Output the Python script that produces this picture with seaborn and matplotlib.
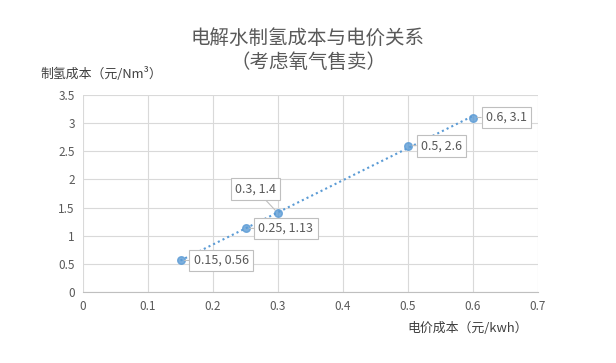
import matplotlib
matplotlib.use("Agg")
import matplotlib.pyplot as plt
import seaborn as sns
import pandas as pd

price = [0.15, 0.25, 0.3, 0.5, 0.6]
cost = [0.56, 1.13, 1.4, 2.6, 3.1]
labels = ["0.15, 0.56", "0.25, 1.13", "0.3, 1.4", "0.5, 2.6", "0.6, 3.1"]
label_offsets = [(13, 0), (13, 0), (-43, 24), (13, 0), (13, 0)]
x_ticks = [0, 0.1, 0.2, 0.3, 0.4, 0.5, 0.6, 0.7]
y_ticks = [0, 0.5, 1, 1.5, 2, 2.5, 3, 3.5]

sns.set_theme(style="whitegrid")
plt.rcParams['font.family'] = ['Noto Sans CJK SC', 'DejaVu Sans']

df = pd.DataFrame({"price": price, "cost": cost})

fig = plt.figure(figsize=(6.16, 3.63), dpi=100)
ax = fig.add_axes([83/616, 1-292/363, (538-83)/616, (292-95)/363])

blue = "#5b9bd5"
grey_txt = "#595959"
sns.regplot(data=df, x="price", y="cost", ax=ax, ci=None, truncate=True,
            scatter_kws=dict(s=30, color=blue, edgecolor=blue, zorder=3),
            line_kws=dict(color=blue, lw=1.5, ls=(0, (1, 1.5)), zorder=2))

ax.set_xlim(0, 0.7)
ax.set_ylim(0, 3.5)
ax.set_xticks(x_ticks)
ax.set_yticks(y_ticks)
ax.set_xticklabels([f"{v:g}" for v in x_ticks])
ax.set_yticklabels([f"{v:g}" for v in y_ticks])
ax.tick_params(axis="both", labelsize=8.5, colors=grey_txt, length=0, pad=6)
ax.grid(True, color="#d9d9d9", lw=0.8)
ax.set_xlabel("")
ax.set_ylabel("")
for s in ["top", "right", "left"]:
    ax.spines[s].set_visible(False)
ax.spines["bottom"].set_color("#bfbfbf")
ax.spines["bottom"].set_linewidth(0.8)
ax.set_facecolor("white")

for x, y, t, (dx, dy) in zip(price, cost, labels, label_offsets):
    ax.annotate(t, xy=(x, y), xytext=(dx, dy), textcoords="offset pixels",
                ha="left", va="center", fontsize=9, color=grey_txt,
                bbox=dict(boxstyle="square,pad=0.35", fc="white", ec="#bfbfbf", lw=0.8),
                arrowprops=dict(arrowstyle="-", color="#bfbfbf", lw=0.8, shrinkA=0, shrinkB=3),
                zorder=4)

fig.text(0.5, 1-38/363, "电解水制氢成本与电价关系", ha="center", va="center",
         fontsize=14, color=grey_txt)
fig.text(0.5, 1-63/363, "（考虑氧气售卖）", ha="center", va="center",
         fontsize=14, color=grey_txt)
fig.text(40/616, 1-74/363, "制氢成本（元/Nm³）", ha="left", va="center",
         fontsize=9.3, color="#404040")
fig.text(528/616, 1-328/363, "电价成本（元/kwh）", ha="right", va="center",
         fontsize=9.3, color="#404040")

fig.savefig("out.png", dpi=100, facecolor="white")
